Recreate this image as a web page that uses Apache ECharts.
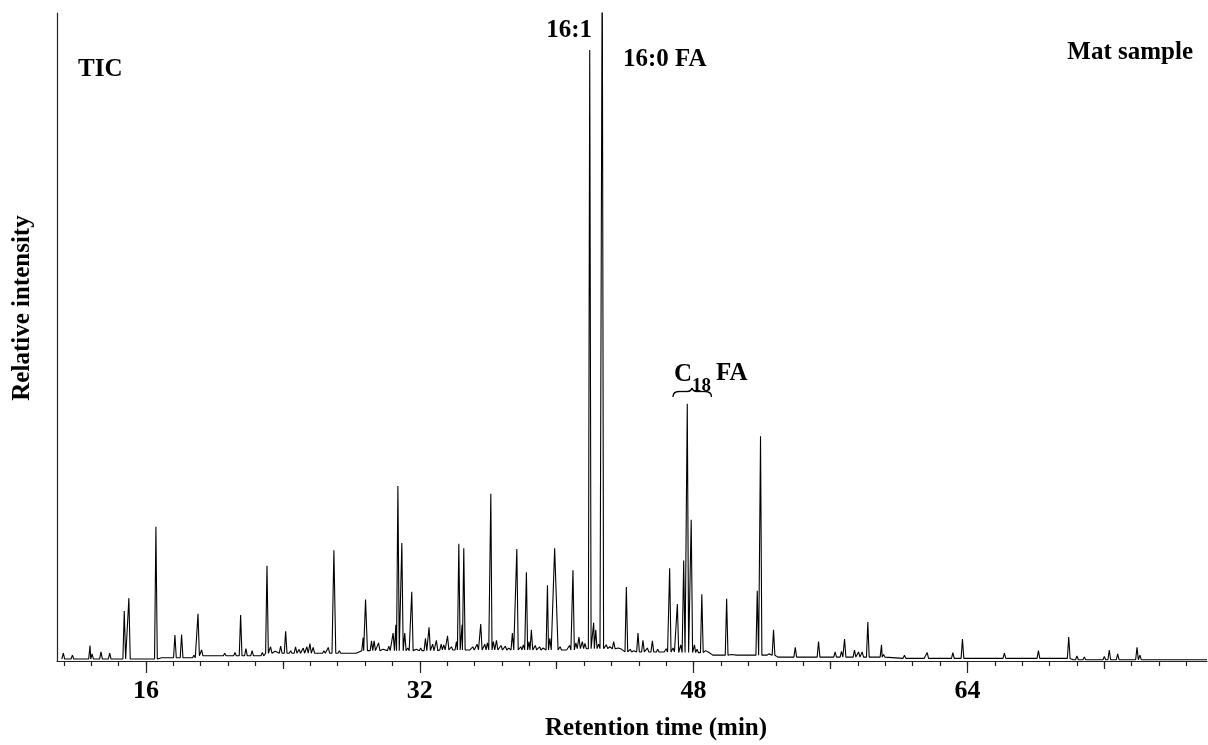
<!DOCTYPE html>
<html>
<head>
<meta charset="utf-8">
<title>TIC - Mat sample</title>
<script src="https://cdn.jsdelivr.net/npm/echarts@6.0.0/dist/echarts.min.js"></script>
<style>
  html, body { margin: 0; padding: 0; background: #fff; }
  #chart { width: 1208px; height: 745px; }
</style>
</head>
<body>
<div id="chart"></div>
<script>
// peak apexes (retention time in min, relative intensity 0-100)
var peakTime = [
  11.17, 11.7, 12.73, 12.85, 13.37, 13.88, 14.73, 15.0, 15.4, 15.8,
  16.58, 17.0, 17.3, 17.69, 18.08, 18.5, 18.8, 19.04, 19.25, 19.6,
  19.9, 20.3, 20.6, 20.9, 21.2, 21.53, 21.84, 22.2, 22.5, 22.8,
  23.07, 23.28, 23.55, 23.87, 24.16, 24.45, 24.74, 24.95, 25.19, 25.4,
  25.58, 25.77, 26.1, 26.4, 26.65, 26.98, 27.3, 27.6, 27.9, 28.2,
  28.69, 28.83, 29.18, 29.33, 29.59, 29.85, 30.19, 30.44, 30.6, 30.72,
  30.95, 31.12, 31.3, 31.53, 31.8, 32.05, 32.33, 32.54, 32.75, 32.97,
  33.25, 33.4, 33.62, 33.85, 34.14, 34.28, 34.47, 34.57, 34.85, 35.1,
  35.35, 35.56, 35.8, 35.95, 36.15, 36.3, 36.48, 36.75, 37.0, 37.2,
  37.41, 37.67, 37.9, 38.05, 38.23, 38.38, 38.52, 38.75, 39.0, 39.2,
  39.46, 39.6, 39.88, 40.2, 40.5, 40.75, 40.95, 41.12,
  41.3, 41.5, 41.65, 41.93, 42.16, 42.28, 42.45, 42.66, 42.9, 43.1,
  43.33, 43.6, 43.8, 44.07, 44.3, 44.5, 44.75, 45.04, 45.3, 45.59,
  45.9, 46.2, 46.4, 46.6, 46.8, 47.05, 47.25, 47.42, 47.63, 47.86,
  48.05, 48.2, 48.48, 48.7, 48.9, 49.2, 49.5, 49.93, 50.2, 50.6,
  50.9, 51.3, 51.72, 51.91, 52.2, 52.4, 52.67, 53.0, 53.3, 53.94,
  54.3, 54.7, 55.3, 55.6, 56.27, 56.64, 56.82, 57.4, 57.64, 57.85,
  58.18, 58.98, 59.1, 60.32, 61.39, 61.65, 62.5, 63.15, 63.71, 64.5,
  65.5, 66.16, 67.0, 67.5, 68.15, 69.12, 69.92, 70.1, 70.4, 70.83,
  72.0, 72.29, 72.78, 73.91, 74.08, 74.43, 75.0, 76.0, 77.0
];
var peakHeight = [
  1.2, 0.9, 2.4, 1.1, 1.4, 1.2, 7.7, 9.7, 0.5, 0.4,
  20.7, 0.6, 0.8, 4.0, 4.1, 0.7, 0.9, 7.3, 1.7, 0.8,
  0.7, 1.0, 1.2, 1.0, 1.3, 7.1, 1.9, 1.6, 1.1, 1.3,
  14.7, 2.2, 1.5, 2.3, 4.6, 1.6, 2.2, 1.8, 2.0, 2.2,
  2.7, 2.1, 1.4, 1.6, 2.1, 17.1, 1.6, 1.3, 1.2, 1.4,
  3.6, 9.5, 3.1, 3.1, 2.8, 1.8, 2.3, 4.3, 5.6, 27.0,
  18.2, 4.3, 2.0, 10.7, 1.8, 2.0, 3.5, 5.2, 2.6, 3.2,
  2.6, 2.5, 3.9, 2.2, 3.0, 18.1, 5.6, 17.4, 2.0, 2.2,
  2.6, 5.7, 2.6, 2.8, 25.8, 3.0, 3.2, 2.4, 2.3, 2.0,
  4.3, 17.3, 2.2, 2.5, 13.7, 3.0, 4.8, 2.4, 2.2, 2.0,
  11.7, 3.5, 17.4, 2.2, 1.5, 2.4, 14.0, 2.8,
  3.7, 3.0, 2.7, 94.3, 5.9, 4.8, 2.6, 110, 2.5, 2.2,
  3.0, 2.0, 1.8, 11.4, 1.8, 1.6, 4.3, 3.2, 2.0, 3.1,
  1.8, 1.7, 1.9, 14.3, 2.0, 8.8, 2.5, 15.5, 39.7, 21.8,
  2.5, 1.8, 10.3, 1.6, 1.3, 1.0, 1.1, 9.6, 1.0, 0.9,
  1.0, 0.9, 10.85, 34.7, 1.0, 1.1, 4.8, 0.9, 0.8, 2.1,
  0.8, 0.7, 3.0, 0.9, 1.4, 1.5, 3.4, 1.7, 1.4, 1.4,
  6.0, 2.5, 1.0, 0.9, 0.6, 1.3, 0.4, 1.3, 3.4, 0.3,
  0.3, 1.2, 0.4, 0.3, 1.6, 0.6, 3.7, 0.7, 0.8, 0.6,
  0.7, 1.7, 1.1, 2.1, 0.9, 0.35, 0.25, 0.3, 0.25
];
// peaks that are visibly broader at the base, and their half width (min)
var broadPeaks = [26.98, 28.83, 39.88];
var broadHalfWidth = [0.11, 0.11, 0.2];

// baseline level of the trace, stepwise by retention-time region
var baseFrom = [10.8, 16.6, 19.0, 23.0, 28.5, 33.0, 41.0, 44.0, 47.0, 49.0, 53.0, 60.0, 70.0];
var baseLevel = [0.3, 0.5, 0.8, 1.2, 1.6, 1.7, 1.9, 1.4, 1.3, 0.9, 0.6, 0.4, 0.2];

// x axis ticks
var tickLabels = [16, 32, 48, 64];
var midTicks = [24, 40, 56, 72];
var minorTicks = [];
for (var k = 0; k <= 41; k++) minorTicks.push(Math.round((11.2 + 1.6 * k) * 10) / 10);

var HW = 0.08; // half width of a sharp peak at its base, min

function baseAt(t) {
  var lv = baseLevel[0];
  for (var i = 0; i < baseFrom.length; i++) {
    if (t >= baseFrom[i]) lv = baseLevel[i];
  }
  return lv;
}

var trace = [[11.08, baseAt(11.08)]];
for (var i = 0; i < peakTime.length; i++) {
  var t = peakTime[i], b = baseAt(t);
  var j = broadPeaks.indexOf(t);
  var hw = j >= 0 ? broadHalfWidth[j] : HW;
  trace.push([t - hw, b], [t, peakHeight[i]], [t + hw, b]);
}
trace.push([78, baseAt(78)]);
trace.sort(function (a, b) { return a[0] - b[0]; });

var FONT = '"Liberation Serif", "Times New Roman", serif';
var AXIS_COLOR = '#222';

var chart = echarts.init(document.getElementById('chart'));

function xAx(ticks, len, extra) {
  var ax = {
    type: 'value', position: 'bottom', min: 10.8, max: 78,
    axisLine: { show: false },
    axisTick: { show: true, customValues: ticks, length: len, lineStyle: { color: AXIS_COLOR, width: 1.2 } },
    axisLabel: { show: false },
    splitLine: { show: false }
  };
  for (var key in extra) ax[key] = extra[key];
  return ax;
}

function txt(s, x, y, align, size) {
  return {
    type: 'text', x: x, y: y,
    style: { text: s, font: 'bold ' + (size || 25) + 'px ' + FONT, fill: '#000', align: align, verticalAlign: 'middle' }
  };
}

// curly brace over the C18 peaks
function seg(type, shape) {
  return { type: type, shape: shape, style: { fill: null, stroke: '#000', lineWidth: 1.3 } };
}

var option = {
  animation: false,
  backgroundColor: '#fff',
  grid: { left: 57, right: 1, top: 13, bottom: 84 },
  xAxis: [
    xAx(minorTicks, 5, { axisLine: { show: true, onZero: false, lineStyle: { color: AXIS_COLOR, width: 1.2 } } }),
    xAx(midTicks, 8, {}),
    xAx(tickLabels, 12, {
      axisLabel: {
        show: true, customValues: tickLabels, margin: 17,
        fontFamily: FONT, fontSize: 26, fontWeight: 'bold', color: '#000'
      }
    })
  ],
  yAxis: {
    type: 'value', min: 0, max: 100,
    axisLine: { show: true, lineStyle: { color: AXIS_COLOR, width: 1.2 } },
    axisTick: { show: false },
    axisLabel: { show: false },
    splitLine: { show: false }
  },
  series: [{
    type: 'line',
    xAxisIndex: 0,
    data: trace,
    symbol: 'none',
    clip: true,
    lineStyle: { color: '#000', width: 1.1 }
  }],
  graphic: [
    txt('TIC', 78, 70, 'left'),
    txt('16:1', 592, 31, 'right'),
    txt('16:0 FA', 623, 60, 'left'),
    txt('Mat sample', 1193, 53, 'right'),
    txt('C', 674, 375, 'left'),
    txt('18', 692, 386, 'left', 19),
    txt('FA', 716, 374, 'left'),
    seg('bezierCurve', { x1: 673, y1: 397, cpx1: 673, cpy1: 391.5, x2: 679, y2: 391.5 }),
    seg('line', { x1: 679, y1: 391.5, x2: 687, y2: 391.5 }),
    seg('bezierCurve', { x1: 687, y1: 391.5, cpx1: 691, cpy1: 391.5, x2: 692, y2: 388 }),
    seg('bezierCurve', { x1: 692, y1: 388, cpx1: 693, cpy1: 391.5, x2: 697, y2: 391.5 }),
    seg('line', { x1: 697, y1: 391.5, x2: 705, y2: 391.5 }),
    seg('bezierCurve', { x1: 705, y1: 391.5, cpx1: 711.5, cpy1: 391.5, x2: 711.5, y2: 397 }),
    txt('Retention time (min)', 656, 729, 'center'),
    {
      type: 'text', x: 23, y: 308, rotation: Math.PI / 2,
      style: { text: 'Relative intensity', font: 'bold 25px ' + FONT, fill: '#000', align: 'center', verticalAlign: 'middle' }
    }
  ]
};

chart.setOption(option);
</script>
</body>
</html>
